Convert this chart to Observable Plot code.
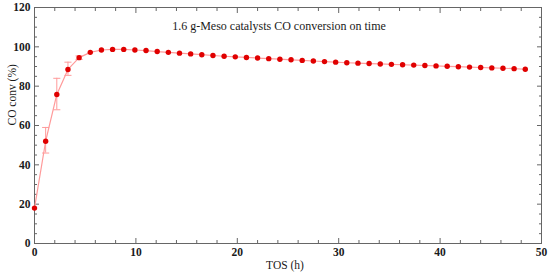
<!DOCTYPE html>
<html>
<head>
<meta charset="utf-8">
<script src="https://cdn.jsdelivr.net/npm/d3@7"></script>
<script src="https://cdn.jsdelivr.net/npm/@observablehq/plot@0.6"></script>
<style>
body{margin:0;background:#fff;}
svg, svg text{font-family:"Liberation Serif","DejaVu Serif",serif !important;}
</style>
</head>
<body>
<div id="chart"></div>
<script>
const title = "1.6 g-Meso catalysts CO conversion on time";
const xLabel = "TOS (h)";
const yLabel = "CO conv (%)";
const tos = [0,1.1,2.2,3.3,4.4,5.5,6.6,7.7,8.8,9.9,11,12.1,13.2,14.3,15.4,16.5,17.6,18.7,19.8,20.9,22,23.1,24.2,25.3,26.4,27.5,28.6,29.7,30.8,31.9,33,34.1,35.2,36.3,37.4,38.5,39.6,40.7,41.8,42.9,44,45.1,46.2,47.3,48.4];
const conv = [18,52,75.8,88.5,94.5,97.2,98.4,98.7,98.7,98.4,98.1,97.6,97.2,96.8,96.4,96.0,95.6,95.2,94.9,94.6,94.3,94.0,93.7,93.4,93.1,92.8,92.5,92.2,91.9,91.7,91.5,91.3,91.1,90.9,90.7,90.5,90.3,90.1,89.9,89.7,89.5,89.3,89.1,88.9,88.6];
const errX = [1.1,2.2,3.3,4.4];
const errLo = [46,68,85.5,93.6];
const errHi = [59,84,92.2,95.4];
const xTicks = [0,10,20,30,40,50];
const xMinor = [2,4,6,8,12,14,16,18,22,24,26,28,32,34,36,38,42,44,46,48];
const yTicks = [0,20,40,60,80,100,120];
const yMinor = [5,10,15,25,30,35,45,50,55,65,70,75,85,90,95,105,110,115];

const data = tos.map((t,i)=>({t, v: conv[i]}));
const err = errX.map((t,i)=>({t, lo: errLo[i], hi: errHi[i]}));
const cap = {draw(ctx, size){ const w = Math.sqrt(size); ctx.moveTo(-w,0); ctx.lineTo(w,0); }};
const axisColor = "#666";
const textColor = "#1a1a1a";
const serif = "Liberation Serif";
const blank = () => "";

const chart = Plot.plot({
  width: 550, height: 276,
  marginLeft: 34, marginRight: 9, marginTop: 7, marginBottom: 33,
  style: {fontFamily: "Liberation Serif, serif", fontSize: "11px", color: textColor, background: "#fff"},
  x: {domain: [0,50]},
  y: {domain: [0,120]},
  marks: [
    Plot.frame({stroke: axisColor}),
    Plot.axisX({anchor:"bottom", ticks: xTicks, tickSize: -5, tickPadding: 9, stroke: axisColor, fill: textColor, fontSize: 11.5, fontWeight: 600, fontFamily: serif, label: null}),
    Plot.axisX({anchor:"bottom", ticks: xMinor, tickSize: -3, tickFormat: blank, stroke: axisColor, label: null}),
    Plot.axisX({anchor:"top", ticks: xTicks, tickSize: -5, tickFormat: blank, stroke: axisColor, label: null}),
    Plot.axisX({anchor:"top", ticks: xMinor, tickSize: -3, tickFormat: blank, stroke: axisColor, label: null}),
    Plot.axisY({anchor:"left", ticks: yTicks, tickSize: -5, tickPadding: 9, stroke: axisColor, fill: textColor, fontSize: 11.5, fontWeight: 600, fontFamily: serif, label: null}),
    Plot.axisY({anchor:"left", ticks: yMinor, tickSize: -3, tickFormat: blank, stroke: axisColor, label: null}),
    Plot.axisY({anchor:"right", ticks: yTicks, tickSize: -5, tickFormat: blank, stroke: axisColor, label: null}),
    Plot.axisY({anchor:"right", ticks: yMinor, tickSize: -3, tickFormat: blank, stroke: axisColor, label: null}),
    Plot.line(data, {x:"t", y:"v", stroke:"#ff9a9a", strokeWidth: 1.2}),
    Plot.ruleX(err, {x:"t", y1:"lo", y2:"hi", stroke:"#ff9a9a", strokeWidth: 1}),
    Plot.dot(err, {x:"t", y:"lo", symbol: cap, r: 2, stroke:"#ff9a9a", strokeWidth: 1}),
    Plot.dot(err, {x:"t", y:"hi", symbol: cap, r: 2, stroke:"#ff9a9a", strokeWidth: 1}),
    Plot.dot(data, {x:"t", y:"v", r: 2.7, fill:"#e00000", stroke:"none"}),
    Plot.text([title], {frameAnchor:"top", dx: -9, dy: 14, fontSize: 12, fontFamily: serif, fill: textColor, text: d=>d}),
    Plot.text([xLabel], {frameAnchor:"bottom", dx: -3, dy: 25, fontSize: 11.5, fontFamily: serif, fill: textColor, text: d=>d}),
    Plot.text([yLabel], {frameAnchor:"left", dx: -22, dy: 0, rotate: -90, fontSize: 11.5, fontFamily: serif, fill: textColor, text: d=>d})
  ]
});
document.getElementById("chart").appendChild(chart);
</script>
</body>
</html>
